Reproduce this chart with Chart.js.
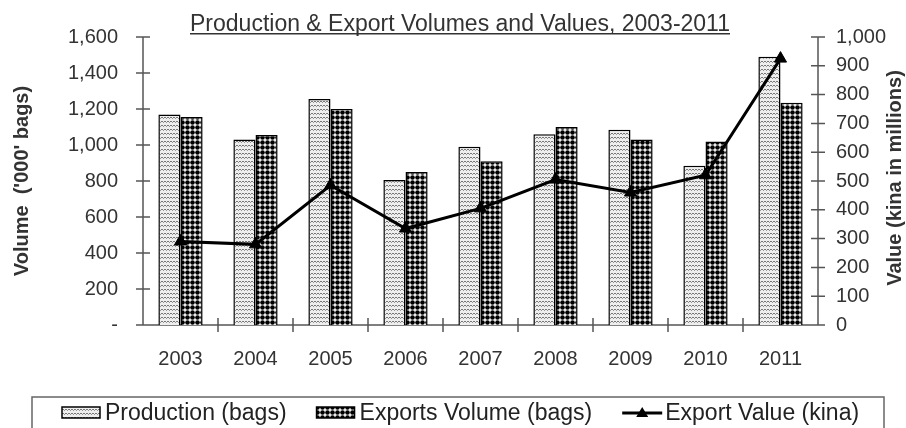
<!DOCTYPE html>
<html>
<head>
    <title>Production & Export Volumes and Values, 2003-2011</title>
    <meta charset="UTF-8">
    <script src="https://cdn.jsdelivr.net/npm/chart.js@4.4.1/dist/chart.umd.min.js"></script>
    <style>
        html, body { margin: 0; padding: 0; background: #fff; }
    </style>
</head>
<body>
    <canvas id="myChart" width="906" height="428"></canvas>

    <script>
        var years = ['2003', '2004', '2005', '2006', '2007', '2008', '2009', '2010', '2011'];
        var production = [1170, 1030, 1255, 805, 990, 1060, 1085, 885, 1490];
        var exportsVolume = [1155, 1055, 1200, 850, 910, 1100, 1030, 1020, 1235];
        var exportValue = [290, 280, 485, 335, 405, 505, 460, 520, 925];
        var volumeTicks = [0, 200, 400, 600, 800, 1000, 1200, 1400, 1600];
        var volumeTickLabels = ['-', '200', '400', '600', '800', '1,000', '1,200', '1,400', '1,600'];
        var valueTicks = [0, 100, 200, 300, 400, 500, 600, 700, 800, 900, 1000];
        var valueTickLabels = ['0', '100', '200', '300', '400', '500', '600', '700', '800', '900', '1,000'];

        var FONT = '"Liberation Sans", Arial, sans-serif';
        var textColor = '#333';

        // bar fills: wavy lines for production, black dots for exports
        function wavePattern() {
            var c = document.createElement('canvas');
            c.width = 6; c.height = 4;
            var g = c.getContext('2d');
            g.fillStyle = '#eee';
            g.fillRect(0, 0, 6, 4);
            g.strokeStyle = '#777';
            g.lineWidth = 1;
            g.beginPath();
            g.moveTo(0, 1); g.lineTo(1.5, 2.5); g.lineTo(3, 1); g.lineTo(4.5, 2.5); g.lineTo(6, 1);
            g.stroke();
            return g.createPattern(c, 'repeat');
        }
        function dotPattern() {
            var c = document.createElement('canvas');
            c.width = 5; c.height = 5;
            var g = c.getContext('2d');
            g.fillStyle = '#fff';
            g.fillRect(0, 0, 5, 5);
            g.fillStyle = '#000';
            g.beginPath();
            g.arc(2.5, 2.5, 2.3, 0, Math.PI * 2);
            g.fill();
            return g.createPattern(c, 'repeat');
        }

        var ctx = document.getElementById('myChart');
        var prodFill = wavePattern();
        var expFill = dotPattern();

        var axisLines = {
            id: 'axisLines',
            beforeDatasetsDraw: function (chart) {
                var c = chart.ctx, a = chart.chartArea;
                var x = chart.scales.x, y = chart.scales.y, y1 = chart.scales.y1;
                c.save();
                c.strokeStyle = '#555';
                c.lineWidth = 1.5;
                c.beginPath();
                c.moveTo(a.left, a.top); c.lineTo(a.left, a.bottom);
                c.moveTo(a.right, a.top); c.lineTo(a.right, a.bottom);
                c.moveTo(a.left - 7, a.bottom); c.lineTo(a.right + 7, a.bottom);
                y.ticks.forEach(function (t) {
                    var py = y.getPixelForValue(t.value);
                    c.moveTo(a.left - 7, py); c.lineTo(a.left + 7, py);
                });
                y1.ticks.forEach(function (t) {
                    var py = y1.getPixelForValue(t.value);
                    c.moveTo(a.right - 7, py); c.lineTo(a.right + 7, py);
                });
                for (var i = 0; i < years.length - 1; i++) {
                    var px = (x.getPixelForTick(i) + x.getPixelForTick(i + 1)) / 2;
                    c.moveTo(px, a.bottom - 7); c.lineTo(px, a.bottom + 7);
                }
                c.stroke();
                c.restore();
            }
        };

        var texts = {
            id: 'texts',
            afterDraw: function (chart) {
                var c = chart.ctx, a = chart.chartArea;
                c.save();
                // title, underlined
                c.fillStyle = '#333';
                c.font = '23px ' + FONT;
                c.textAlign = 'center';
                c.textBaseline = 'alphabetic';
                var title = 'Production & Export Volumes and Values, 2003-2011';
                var tw = c.measureText(title).width;
                var cx = 460;
                c.fillText(title, cx, 31);
                c.fillRect(cx - tw / 2, 33, tw, 1.5);

                // axis titles
                c.font = 'bold 20px ' + FONT;
                c.textBaseline = 'middle';
                c.save();
                c.translate(22, (a.top + a.bottom) / 2);
                c.rotate(-Math.PI / 2);
                c.fillText("Volume  ('000' bags)", 0, 0);
                c.restore();
                c.save();
                c.translate(895, (a.top + a.bottom) / 2 - 3);
                c.rotate(-Math.PI / 2);
                c.fillText('Value (kina in millions)', 0, 0);
                c.restore();

                // legend
                c.strokeStyle = '#666';
                c.lineWidth = 1.5;
                c.strokeRect(32, 397, 852, 40);
                c.font = '23px ' + FONT;
                c.textAlign = 'left';
                var ds = chart.data.datasets;
                var lx = 62, ly = 413;
                [ds[0], ds[1], ds[2]].forEach(function (d) {
                    if (d.type === 'line') {
                        c.strokeStyle = '#000';
                        c.lineWidth = 3;
                        c.beginPath();
                        c.moveTo(lx, ly); c.lineTo(lx + 40, ly);
                        c.stroke();
                        c.beginPath();
                        c.moveTo(lx + 20, ly - 6); c.lineTo(lx + 26, ly + 4); c.lineTo(lx + 14, ly + 4);
                        c.closePath();
                        c.fillStyle = '#000';
                        c.fill();
                    } else {
                        c.fillStyle = d.backgroundColor;
                        c.fillRect(lx, ly - 6, 38, 11);
                        c.strokeStyle = '#000';
                        c.lineWidth = 1.5;
                        c.strokeRect(lx, ly - 6, 38, 11);
                    }
                    c.fillStyle = '#222';
                    c.fillText(d.label, lx + 43, ly + 1);
                    lx += 43 + c.measureText(d.label).width + 30;
                });
                c.restore();
            }
        };

        var tickFont = { family: FONT, size: 20 };

        var myChart = new Chart(ctx, {
            type: 'bar',
            data: {
                labels: years,
                datasets: [{
                    label: 'Production (bags)',
                    data: production,
                    backgroundColor: prodFill,
                    borderColor: '#000',
                    borderWidth: 1.5,
                    categoryPercentage: 0.59,
                    barPercentage: 1,
                    yAxisID: 'y',
                    order: 1
                }, {
                    label: 'Exports Volume (bags)',
                    data: exportsVolume,
                    backgroundColor: expFill,
                    borderColor: '#000',
                    borderWidth: 1.5,
                    categoryPercentage: 0.59,
                    barPercentage: 1,
                    yAxisID: 'y',
                    order: 1
                }, {
                    type: 'line',
                    label: 'Export Value (kina)',
                    data: exportValue,
                    yAxisID: 'y1',
                    borderColor: '#000',
                    backgroundColor: '#000',
                    borderWidth: 3,
                    pointStyle: 'triangle',
                    pointRadius: 7,
                    pointBorderWidth: 1,
                    tension: 0,
                    order: 0
                }]
            },
            options: {
                responsive: false,
                animation: false,
                layout: { padding: { top: 37, left: 0, right: 0, bottom: 0 } },
                plugins: {
                    legend: { display: false },
                    title: { display: false },
                    tooltip: { enabled: false }
                },
                scales: {
                    x: {
                        grid: { display: false, drawTicks: false },
                        border: { display: false },
                        ticks: { font: tickFont, color: textColor, padding: 22, maxRotation: 0 },
                        afterFit: function (s) { s.height = 103; }
                    },
                    y: {
                        position: 'left',
                        min: 0, max: 1600,
                        grid: { display: false, drawTicks: false },
                        border: { display: false },
                        afterBuildTicks: function (s) { s.ticks = volumeTicks.map(function (v) { return { value: v }; }); },
                        ticks: {
                            font: tickFont, color: textColor, padding: 25,
                            callback: function (v, i) { return volumeTickLabels[i]; }
                        },
                        afterFit: function (s) { s.width = 143; }
                    },
                    y1: {
                        position: 'right',
                        min: 0, max: 1000,
                        grid: { display: false, drawTicks: false },
                        border: { display: false },
                        afterBuildTicks: function (s) { s.ticks = valueTicks.map(function (v) { return { value: v }; }); },
                        ticks: {
                            font: tickFont, color: textColor, padding: 18,
                            callback: function (v, i) { return valueTickLabels[i]; }
                        },
                        afterFit: function (s) { s.width = 88; }
                    }
                }
            },
            plugins: [axisLines, texts]
        });
    </script>
</body>
</html>
